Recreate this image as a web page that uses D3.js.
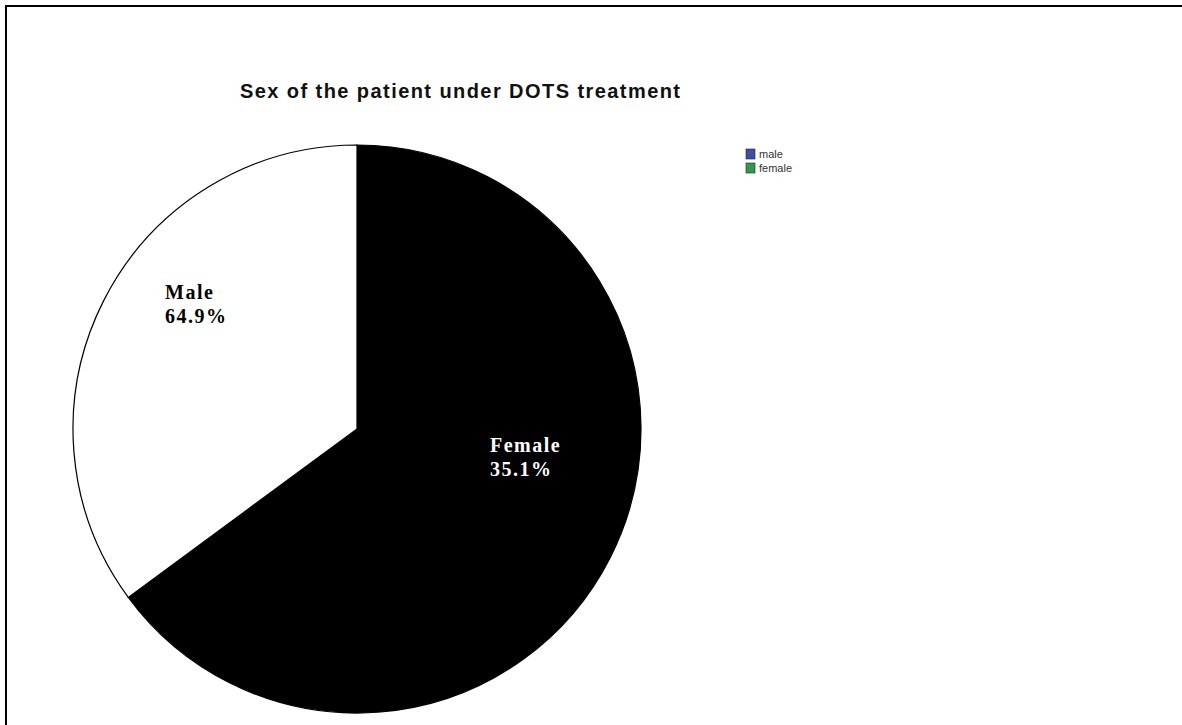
<!DOCTYPE html>
<html>
<head>
<meta charset="utf-8">
<script src="https://cdn.jsdelivr.net/npm/d3@7"></script>
<style>
  body { margin: 0; background: #fff; }
  svg { display: block; }
</style>
</head>
<body>
<div id="chart"></div>
<script>
// slice data, in drawing order (clockwise from 12 o'clock)
const sliceValues = [64.9, 35.1];
const sliceLabels = ['Female', 'Male'];
const slicePercents = ['35.1%', '64.9%'];
const sliceColors = ['#000000', '#ffffff'];
const labelColors = ['#ffffff', '#000000'];

// legend entries
const legendNames = ['male', 'female'];
const legendColors = ['#3f4fa6', '#2f9a4c'];

const chartTitle = 'Sex of the patient under DOTS treatment';

const width = 1182, height = 725;
const cx = 357, cy = 429, radius = 284;

// label anchors relative to the pie centre
const labelOffsets = [[133, 23], [-192, -130]];

const svg = d3.select('#chart').append('svg')
    .attr('width', width)
    .attr('height', height);

// frame (only top and left edges show in the picture)
svg.append('path')
    .attr('d', `M6,${height} V6 H${width}`)
    .attr('fill', 'none')
    .attr('stroke', '#000')
    .attr('stroke-width', 2);

svg.append('text')
    .attr('x', 240)
    .attr('y', 98)
    .attr('textLength', 440)
    .attr('lengthAdjust', 'spacing')
    .style('font-family', 'Liberation Sans, Arial, sans-serif')
    .style('font-size', '20px')
    .style('font-weight', '600')
    .style('fill', '#111')
    .text(chartTitle);

const pie = d3.pie().sort(null).value(d => d);
const arc = d3.arc().innerRadius(0).outerRadius(radius);

const g = svg.append('g')
    .attr('transform', `translate(${cx},${cy})`);

g.selectAll('path.slice')
  .data(pie(sliceValues))
  .join('path')
    .attr('class', 'slice')
    .attr('d', arc)
    .attr('fill', (d, i) => sliceColors[i])
    .attr('stroke', '#000')
    .attr('stroke-width', 1.2);

const labels = g.selectAll('text.label')
  .data(sliceLabels)
  .join('text')
    .attr('class', 'label')
    .attr('transform', (d, i) => `translate(${labelOffsets[i][0]},${labelOffsets[i][1]})`)
    .style('font-family', 'Liberation Serif, Times New Roman, serif')
    .style('font-size', '20px')
    .style('font-weight', 'bold')
    .style('letter-spacing', '1.5px')
    .attr('fill', (d, i) => labelColors[i]);

labels.append('tspan')
    .attr('x', 0)
    .attr('y', 0)
    .text(d => d);

labels.append('tspan')
    .attr('x', 0)
    .attr('y', 24)
    .text((d, i) => slicePercents[i]);

// legend
const legend = svg.append('g')
    .attr('transform', 'translate(746,149)');

const items = legend.selectAll('g')
  .data(legendNames)
  .join('g')
    .attr('transform', (d, i) => `translate(0,${i * 14})`);

items.append('rect')
    .attr('width', 9)
    .attr('height', 10)
    .attr('fill', (d, i) => legendColors[i])
    .attr('stroke', '#222')
    .attr('stroke-width', 0.6);

items.append('text')
    .attr('x', 13)
    .attr('y', 9)
    .style('font-family', 'Liberation Sans, Arial, sans-serif')
    .style('font-size', '11px')
    .style('fill', '#333')
    .text(d => d);
</script>
</body>
</html>
